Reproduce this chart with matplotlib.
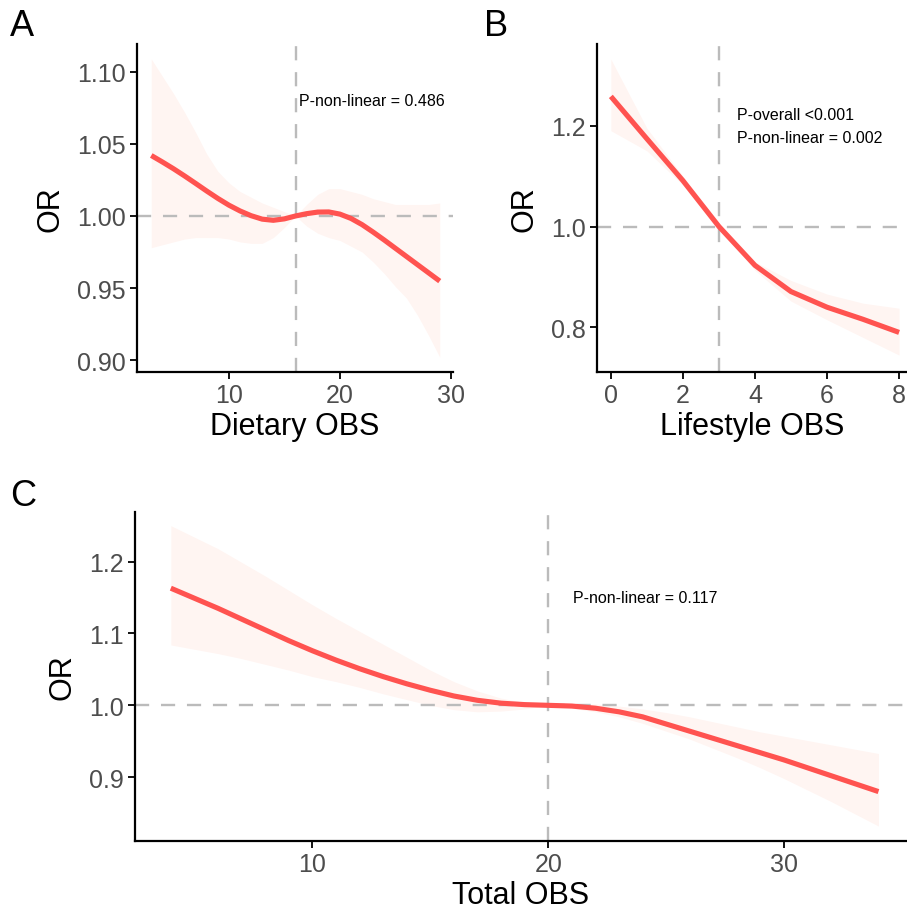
import matplotlib

matplotlib.use("Agg")
import matplotlib.pyplot as plt  # noqa: E402

plt.rcParams["font.family"] = ["Liberation Sans", "DejaVu Sans"]

# panel A: dietary OBS
diet_x = [3, 4, 5, 6, 7, 8, 9, 10, 11, 12, 13, 14, 15, 16, 17, 18, 19, 20,
          21, 22, 23, 24, 25, 26, 27, 28, 29]
diet_or = [1.042, 1.0375, 1.0328, 1.0278, 1.0226, 1.0173, 1.0122, 1.0075, 1.0035,
           1.0002, 0.9978, 0.9970, 0.9980, 1.0000, 1.0016, 1.0027, 1.0028, 1.0013,
           0.9983, 0.9940, 0.9888, 0.9833, 0.9776, 0.9719, 0.9662, 0.9605, 0.9548]
diet_hi = [1.109, 1.097, 1.085, 1.072, 1.058, 1.043, 1.031, 1.023, 1.017, 1.013,
           1.009, 1.006, 1.003, 1.000, 1.008, 1.015, 1.019, 1.019, 1.017, 1.015,
           1.012, 1.010, 1.008, 1.008, 1.008, 1.008, 1.009]
diet_lo = [0.978, 0.980, 0.982, 0.984, 0.985, 0.985, 0.985, 0.984, 0.982, 0.981,
           0.981, 0.985, 0.992, 1.000, 0.993, 0.988, 0.985, 0.983, 0.979, 0.975,
           0.968, 0.960, 0.951, 0.943, 0.931, 0.917, 0.902]

# panel B: lifestyle OBS
life_x = [0, 1, 2, 3, 4, 5, 6, 7, 8]
life_or = [1.258, 1.174, 1.091, 1.000, 0.923, 0.871, 0.840, 0.816, 0.790]
life_hi = [1.332, 1.195, 1.100, 1.000, 0.930, 0.893, 0.866, 0.848, 0.838]
life_lo = [1.190, 1.150, 1.082, 1.000, 0.913, 0.852, 0.815, 0.780, 0.745]

# panel C: total OBS
total_x = [4, 5, 6, 7, 8, 9, 10, 11, 12, 13, 14, 15, 16, 17, 18, 19, 20,
           21, 22, 23, 24, 25, 26, 27, 28, 29, 30, 31, 32, 33, 34]
total_or = [1.163, 1.149, 1.135, 1.120, 1.105, 1.090, 1.076, 1.063, 1.051, 1.040,
            1.030, 1.021, 1.013, 1.007, 1.003, 1.001, 1.000, 0.999, 0.996, 0.991,
            0.984, 0.974, 0.964, 0.954, 0.944, 0.934, 0.924, 0.913, 0.902, 0.891,
            0.880]
total_hi = [1.250, 1.234, 1.218, 1.199, 1.180, 1.160, 1.140, 1.121, 1.103, 1.085,
            1.067, 1.049, 1.033, 1.020, 1.010, 1.004, 1.000, 1.001, 1.002, 0.999,
            0.995, 0.990, 0.984, 0.977, 0.970, 0.963, 0.957, 0.951, 0.945, 0.939,
            0.933]
total_lo = [1.084, 1.078, 1.072, 1.065, 1.057, 1.049, 1.040, 1.033, 1.025, 1.016,
            1.008, 1.000, 0.994, 0.991, 0.992, 0.995, 1.000, 0.996, 0.991, 0.984,
            0.975, 0.964, 0.953, 0.940, 0.927, 0.913, 0.898, 0.882, 0.866, 0.849,
            0.832]

LINE = "#FF5350"
BAND = "#FFF5F2"
REF = "#BBBBBB"


def draw(ax, x, y, lo, hi, ref_x, xlabel, xlim, ylim, xticks, yticks, fmt, notes):
    ax.fill_between(x, lo, hi, color=BAND, lw=0, zorder=1)
    ax.axhline(1.0, color=REF, lw=1.7, dashes=(6, 5), zorder=2)
    ax.axvline(ref_x, color=REF, lw=1.7, dashes=(6, 5), zorder=2)
    ax.plot(x, y, color=LINE, lw=3.7, solid_capstyle="butt", zorder=3)
    ax.set_xlim(*xlim)
    ax.set_ylim(*ylim)
    ax.set_xticks(xticks)
    ax.set_yticks(yticks)
    ax.set_yticklabels([fmt.format(v) for v in yticks])
    ax.set_xlabel(xlabel, fontsize=22, labelpad=3)
    ax.set_ylabel("OR", fontsize=22, labelpad=8)
    ax.tick_params(labelsize=18, labelcolor="#4D4D4D", length=5, width=1.3,
                   direction="out", pad=3)
    for side in ("top", "right"):
        ax.spines[side].set_visible(False)
    for side in ("left", "bottom"):
        ax.spines[side].set_linewidth(1.6)
    for nx, ny, txt in notes:
        ax.text(nx, ny, txt, fontsize=11.5, ha="left", va="center")


fig = plt.figure(figsize=(9.07, 9.12), dpi=100)

ax_a = fig.add_axes([0.151, 0.591, 0.3485, 0.3597])
draw(ax_a, diet_x, diet_or, diet_lo, diet_hi, 16, "Dietary OBS",
     (1.71, 30.2), (0.8917, 1.1194), [10, 20, 30],
     [0.90, 0.95, 1.00, 1.05, 1.10], "{:.2f}",
     [(16.3, 1.08, "P-non-linear = 0.486")])

ax_b = fig.add_axes([0.658, 0.591, 0.342, 0.3597])
draw(ax_b, life_x, life_or, life_lo, life_hi, 3, "Lifestyle OBS",
     (-0.39, 8.22), (0.7115, 1.362), [0, 2, 4, 6, 8],
     [0.8, 1.0, 1.2], "{:.1f}",
     [(3.49, 1.223, "P-overall <0.001"), (3.49, 1.176, "P-non-linear = 0.002")])

ax_c = fig.add_axes([0.1488, 0.0768, 0.8512, 0.3607])
draw(ax_c, total_x, total_or, total_lo, total_hi, 20, "Total OBS",
     (2.48, 35.21), (0.8113, 1.269), [10, 20, 30],
     [0.9, 1.0, 1.1, 1.2], "{:.1f}",
     [(21.05, 1.150, "P-non-linear = 0.117")])

for label, px, py in (("A", 0.011, 0.971), ("B", 0.534, 0.971), ("C", 0.011, 0.456)):
    fig.text(px, py, label, fontsize=26, ha="left", va="center")

fig.savefig("out.png", dpi=100)
plt.close(fig)
